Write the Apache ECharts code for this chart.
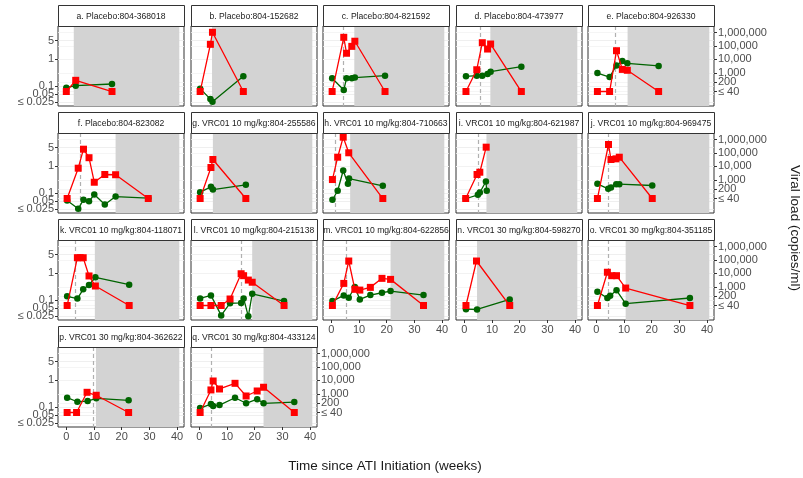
<!DOCTYPE html>
<html><head><meta charset="utf-8">
<script src="https://cdn.jsdelivr.net/npm/echarts@6/dist/echarts.min.js"></script>
<style>html,body{margin:0;padding:0;background:#fff}#c{width:803px;height:478px}</style>
</head><body><div id="c"></div><script>
const panelTitles = [
  'a. Placebo:804-368018','b. Placebo:804-152682','c. Placebo:804-821592','d. Placebo:804-473977','e. Placebo:804-926330',
  'f. Placebo:804-823082','g. VRC01 10 mg/kg:804-255586','h. VRC01 10 mg/kg:804-710663','i. VRC01 10 mg/kg:804-621987','j. VRC01 10 mg/kg:804-969475',
  'k. VRC01 10 mg/kg:804-118071','l. VRC01 10 mg/kg:804-215138','m. VRC01 10 mg/kg:804-622856','n. VRC01 30 mg/kg:804-598270','o. VRC01 30 mg/kg:804-351185',
  'p. VRC01 30 mg/kg:804-362622','q. VRC01 30 mg/kg:804-433124'
];
const greyStart = [2.7, 4.6, 8.3, 9.4, 11.3, 17.8, 4.9, 6.8, 8.0, 8.2, 10.3, 19.1, 21.4, 4.6, 10.6, 10.7, 23.2];
const greyEnd = 40.8;
const dashedAt = [null, null, 4.4, 5.5, 6.6, 5.1, null, 1.5, 4.9, 4.4, 3.3, 15.1, 5.4, null, 4.4, 9.6, 4.1];

// viral load (red squares, right axis, copies/ml)
const vlWeeks = [
  [0, 3.4, 16.5],
  [0.3, 4.0, 4.75, 15.9],
  [0.3, 4.5, 5.5, 7.4, 8.5, 19.4],
  [0.6, 4.5, 6.5, 8.4, 9.5, 20.6],
  [0.4, 4.8, 7.3, 9.4, 11.2, 22.5],
  [0.3, 4.3, 6.2, 8.2, 10.1, 13.9, 17.8, 29.6],
  [0.3, 4.2, 4.9, 16.8],
  [0.4, 2.3, 4.3, 6.3, 18.6],
  [0.5, 4.6, 5.6, 7.9],
  [0.4, 4.4, 5.3, 7.1, 8.3, 20.2],
  [0.3, 4.0, 5.0, 6.1, 8.2, 10.5, 22.7],
  [0.3, 4.2, 7.9, 11.1, 15.1, 16.0, 17.7, 19.1, 30.6],
  [0.4, 4.5, 6.3, 8.5, 10.3, 14.1, 18.3, 21.4, 33.3],
  [0.6, 4.4, 16.4],
  [0.4, 4.0, 5.6, 7.3, 10.6, 33.8],
  [0.3, 3.7, 7.5, 10.8, 22.5],
  [0.3, 4.2, 5.0, 7.3, 12.9, 16.9, 20.9, 23.2, 34.3]
];
const viralLoad = [
  [40, 275, 40],
  [40, 135000, 1070000, 40],
  [40, 452000, 29000, 95000, 230000, 40],
  [40, 1700, 178000, 60000, 142000, 40],
  [40, 40, 45000, 1800, 1550, 40],
  [40, 7400, 195000, 45000, 660, 2500, 2400, 40],
  [40, 8300, 33000, 40],
  [1050, 49000, 1540000, 105000, 40],
  [40, 2500, 3700, 276000],
  [40, 437000, 33000, 37000, 49000, 40],
  [40, 150000, 150000, 150000, 6500, 1150, 40],
  [40, 40, 40, 123, 9500, 6800, 3200, 2200, 40],
  [40, 1800, 85000, 650, 570, 910, 4300, 3600, 40],
  [40, 85000, 40],
  [40, 12300, 6800, 6800, 810, 40],
  [40, 40, 1300, 780, 40],
  [40, 1950, 9100, 2300, 6100, 690, 1630, 3100, 40]
];
// antibody level (green circles, left axis)
const abWeeks = [
  [0, 3.4, 16.5],
  [0.3, 4.0, 4.75, 15.9],
  [0.3, 4.5, 5.5, 7.4, 8.5, 19.4],
  [0.6, 4.5, 6.5, 8.4, 9.5, 20.6],
  [0.4, 4.8, 7.3, 9.4, 11.2, 22.5],
  [0.3, 4.3, 6.2, 8.2, 10.1, 13.9, 17.8, 29.6],
  [0.3, 4.2, 4.9, 16.8],
  [0.4, 2.3, 4.3, 6.0, 6.4, 18.6],
  [0.5, 4.9, 5.6, 7.8, 8.1],
  [0.4, 4.3, 5.3, 7.2, 8.3, 20.2],
  [0.3, 4.0, 6.1, 8.2, 10.5, 22.7],
  [0.3, 4.2, 7.9, 11.1, 15.1, 16.0, 17.7, 19.1, 30.6],
  [0.4, 4.5, 6.3, 8.5, 10.3, 14.1, 18.3, 21.4, 33.3],
  [0.6, 4.6, 16.4],
  [0.4, 4.0, 5.0, 7.3, 10.6, 33.8],
  [0.3, 4.0, 7.7, 10.8, 22.5],
  [0.3, 4.2, 5.0, 7.3, 12.9, 16.9, 20.9, 23.2, 34.3]
];
const abConc = [
  [0.088, 0.105, 0.121],
  [0.081, 0.033, 0.026, 0.234],
  [0.197, 0.072, 0.197, 0.197, 0.21, 0.247],
  [0.234, 0.247, 0.247, 0.286, 0.35, 0.535],
  [0.31, 0.22, 0.60, 0.875, 0.715, 0.57],
  [0.053, 0.026, 0.057, 0.05, 0.089, 0.038, 0.075, 0.065],
  [0.109, 0.173, 0.137, 0.206],
  [0.057, 0.123, 0.705, 0.224, 0.354, 0.189],
  [0.062, 0.087, 0.106, 0.274, 0.123],
  [0.224, 0.146, 0.163, 0.217, 0.217, 0.194],
  [0.14, 0.115, 0.255, 0.37, 0.72, 0.38],
  [0.117, 0.151, 0.027, 0.077, 0.079, 0.117, 0.025, 0.174, 0.093],
  [0.093, 0.151, 0.123, 0.31, 0.107, 0.155, 0.19, 0.22, 0.155],
  [0.046, 0.045, 0.107],
  [0.205, 0.121, 0.148, 0.235, 0.074, 0.121],
  [0.226, 0.16, 0.17, 0.214, 0.18],
  [0.093, 0.131, 0.11, 0.12, 0.226, 0.14, 0.20, 0.14, 0.155]
];

const xTicks = [0, 10, 20, 30, 40];
// tick order chosen so that closely spaced labels are not at the ends of the list
const leftTickValues = [0.05, 5, 0.025, 1, 0.1];
const leftTickLabels = ['0.05', '5', '\u2264 0.025', '1', '0.1'];
const rightTickValues = [200, 1000000, 40, 10000, 100000, 1000];
const rightTickLabels = ['200', '1,000,000', '\u2264 40', '10,000', '100,000', '1,000'];

const FONT = 'Liberation Sans, Arial, sans-serif';
const colLeft = [58, 191, 323, 456, 588];
const panelW = 126;
const stripTop = [5, 112, 219, 326];
const stripH = 21;
const plotH = 80;
const xRange = [-3, 42.5];
const leftRange = [-1.74, 1.25];
const rightRange = [0.52, 6.5];

const lg = v => Math.log10(v);
const leftCustom = leftTickValues.map(lg);
const rightCustom = rightTickValues.map(lg);
function fmt(vals, labels) {
  return v => { const k = vals.findIndex(t => Math.abs(lg(t) - v) < 1e-4); return k >= 0 ? labels[k] : ''; };
}

const grids = [], xAxes = [], yAxes = [], series = [], graphics = [];
panelTitles.forEach((title, i) => {
  const row = Math.floor(i / 5), col = i % 5;
  const left = colLeft[col], top = stripTop[row] + stripH;
  grids.push({ left: left, top: top, width: panelW, height: plotH, show: true, borderColor: '#333', borderWidth: 1, backgroundColor: '#fff', containLabel: false });
  const showX = i >= 12;
  xAxes.push({
    type: 'value', gridIndex: i, min: xRange[0], max: xRange[1], position: 'bottom',
    axisLine: { show: false, onZero: false },
    axisTick: { show: showX, length: 3, lineStyle: { color: '#333' }, customValues: xTicks },
    axisLabel: { show: showX, customValues: xTicks, margin: 4, fontSize: 11, color: '#4d4d4d', fontFamily: FONT, hideOverlap: false },
    splitLine: { show: false }
  });
  const showL = col === 0;
  const showR = col === 4 || i === 16;
  yAxes.push({
    type: 'value', gridIndex: i, position: 'left', min: leftRange[0], max: leftRange[1],
    axisLine: { show: false, onZero: false },
    axisTick: { show: showL, length: 3, lineStyle: { color: '#333' }, customValues: leftCustom },
    axisLabel: { show: showL, customValues: leftCustom, formatter: fmt(leftTickValues, leftTickLabels), margin: 4, fontSize: 11, color: '#4d4d4d', fontFamily: FONT, hideOverlap: false, showMinLabel: true, showMaxLabel: true },
    splitLine: { show: true, lineStyle: { color: '#ebebeb', width: 0.8 } }
  });
  yAxes.push({
    type: 'value', gridIndex: i, position: 'right', min: rightRange[0], max: rightRange[1],
    axisLine: { show: false, onZero: false },
    axisTick: { show: showR, length: 3, lineStyle: { color: '#333' }, customValues: rightCustom },
    axisLabel: { show: showR, customValues: rightCustom, formatter: fmt(rightTickValues, rightTickLabels), margin: 4, fontSize: 11, color: '#4d4d4d', fontFamily: FONT, hideOverlap: false, showMinLabel: true, showMaxLabel: true },
    splitLine: { show: true, lineStyle: { color: '#f2f2f2', width: 0.8 } }
  });
  // grey shaded period
  series.push({
    type: 'custom', xAxisIndex: i, yAxisIndex: 2 * i, silent: true, z: 1,
    data: [[greyStart[i], 0, greyEnd]], encode: { x: 0, y: 1 },
    renderItem: (params, api) => {
      const cs = params.coordSys;
      const x0 = api.coord([api.value(0), 0])[0];
      const x1 = api.coord([api.value(2), 0])[0];
      return { type: 'rect', shape: { x: x0, y: cs.y, width: x1 - x0, height: cs.height }, style: { fill: '#d3d3d3' } };
    }
  });
  if (dashedAt[i] != null) {
    series.push({
      type: 'custom', xAxisIndex: i, yAxisIndex: 2 * i, silent: true, z: 2,
      data: [[dashedAt[i], 0]], encode: { x: 0, y: 1 },
      renderItem: (params, api) => {
        const cs = params.coordSys;
        const x = Math.round(api.coord([api.value(0), 0])[0]) + 0.5;
        return { type: 'line', shape: { x1: x, y1: cs.y, x2: x, y2: cs.y + cs.height }, style: { stroke: '#b0b0b0', lineWidth: 1.2, lineDash: [4, 3] } };
      }
    });
  }
  series.push({
    type: 'line', xAxisIndex: i, yAxisIndex: 2 * i, z: 3, clip: false,
    data: abWeeks[i].map((w, k) => [w, lg(abConc[i][k])]),
    symbol: 'circle', symbolSize: 6.5, showAllSymbol: true,
    itemStyle: { color: '#006400' }, lineStyle: { color: '#006400', width: 1.3 }
  });
  series.push({
    type: 'line', xAxisIndex: i, yAxisIndex: 2 * i + 1, z: 4, clip: false,
    data: vlWeeks[i].map((w, k) => [w, lg(viralLoad[i][k])]),
    symbol: 'rect', symbolSize: 7, showAllSymbol: true,
    itemStyle: { color: '#ff0000' }, lineStyle: { color: '#ff0000', width: 1.3 }
  });
  // strip
  graphics.push({ type: 'rect', shape: { x: left + 0.5, y: stripTop[row] + 0.5, width: panelW, height: stripH }, style: { fill: '#fff', stroke: '#333', lineWidth: 1 }, z: 10 });
  graphics.push({ type: 'text', x: left + panelW / 2, y: stripTop[row] + stripH / 2 + 1, style: { text: title, textAlign: 'center', textVerticalAlign: 'middle', font: '8.6px ' + FONT, fill: '#1a1a1a' }, z: 11 });
});
graphics.push({ type: 'text', x: 385, y: 466, style: { text: 'Time since ATI Initiation (weeks)', textAlign: 'center', textVerticalAlign: 'middle', font: '13.5px ' + FONT, fill: '#1a1a1a' } });
graphics.push({ type: 'text', x: 795, y: 228, rotation: -Math.PI / 2, style: { text: 'Viral load (copies/ml)', textAlign: 'center', textVerticalAlign: 'middle', font: '13.5px ' + FONT, fill: '#1a1a1a' } });

const chart = echarts.init(document.getElementById('c'), null, { renderer: 'canvas' });
chart.setOption({
  animation: false,
  backgroundColor: '#fff',
  grid: grids, xAxis: xAxes, yAxis: yAxes, series: series,
  graphic: { elements: graphics }
});
</script></body></html>
